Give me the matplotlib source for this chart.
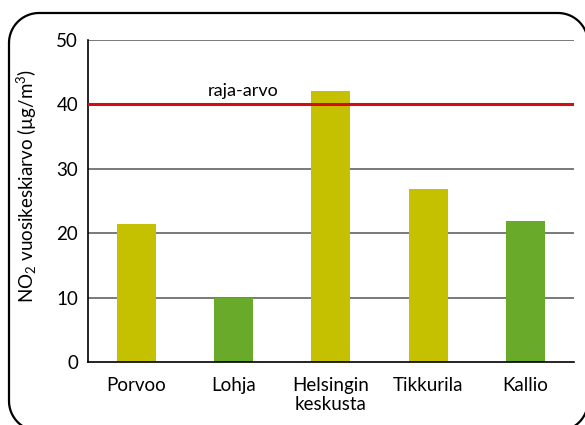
import matplotlib
matplotlib.use('Agg')
import matplotlib.pyplot as plt
import numpy as np

plt.rcParams['font.family'] = ['Lato', 'DejaVu Sans']
plt.rcParams['mathtext.fontset'] = 'custom'
plt.rcParams['mathtext.rm'] = 'Lato'
plt.rcParams['mathtext.it'] = 'Lato'

# data
paikat = ['Porvoo', 'Lohja', 'Helsingin\nkeskusta', 'Tikkurila', 'Kallio']
arvot = [21.4, 10.0, 42.1, 26.9, 21.9]
varit = ['#c5c000', '#6aaa2a', '#c5c000', '#c5c000', '#6aaa2a']
raja = 40
yticks = [0, 10, 20, 30, 40, 50]

W, H = 585, 425
fig = plt.figure(figsize=(W / 100, H / 100), dpi=100)

# rounded frame: pixel-unit overlay, frame runs just past right and bottom edges
bg = fig.add_axes([0, 0, 1, 1], zorder=-1)
bg.set_xlim(0, W)
bg.set_ylim(H, 0)
bg.axis('off')
left, right, top, bottom, r = 9, 588, 13, 431, 30
t = np.linspace(0, np.pi / 2, 20)
px, py = [], []
# top-left, top-right, bottom-right, bottom-left corners
for cx, cy, a0 in [(left + r, top + r, np.pi), (right - r, top + r, 1.5 * np.pi),
                   (right - r, bottom - r, 0), (left + r, bottom - r, 0.5 * np.pi)]:
    px += list(cx + r * np.cos(a0 + t))
    py += list(cy + r * np.sin(a0 + t))
px.append(px[0])
py.append(py[0])
bg.plot(px, py, color='black', linewidth=1.6, solid_capstyle='round')

ax = fig.add_axes([0.1504, 0.148, 0.8306, 0.758])

x = range(len(paikat))
for yv in yticks[1:]:
    ax.axhline(yv, color='#6e6e6e', linewidth=1.3, zorder=1)
ax.bar(x, arvot, width=0.4, color=varit, zorder=2)
ax.axhline(raja, color='#d40d12', linewidth=2.2, zorder=3)
ax.text(1.1, raja + 0.9, 'raja-arvo', fontsize=13, ha='center', va='bottom')

ax.set_xlim(-0.5, 4.5)
ax.set_ylim(0, 50)
ax.set_yticks(yticks)
ax.set_xticks(list(x))
ax.set_xticklabels(paikat, fontsize=13.5, linespacing=1.1)
ax.tick_params(axis='y', length=0, pad=7, labelsize=13.5)
ax.tick_params(axis='x', length=0, pad=11)
for s in ['top', 'right']:
    ax.spines[s].set_visible(False)
ax.spines['left'].set_linewidth(1.2)
ax.spines['bottom'].set_linewidth(1.2)
ax.set_ylabel(r'NO$_2$ vuosikeskiarvo (µg/m$^3$)', fontsize=13.5)
ax.yaxis.set_label_coords(-0.1, 0.547)

fig.savefig('out.png', dpi=100)
